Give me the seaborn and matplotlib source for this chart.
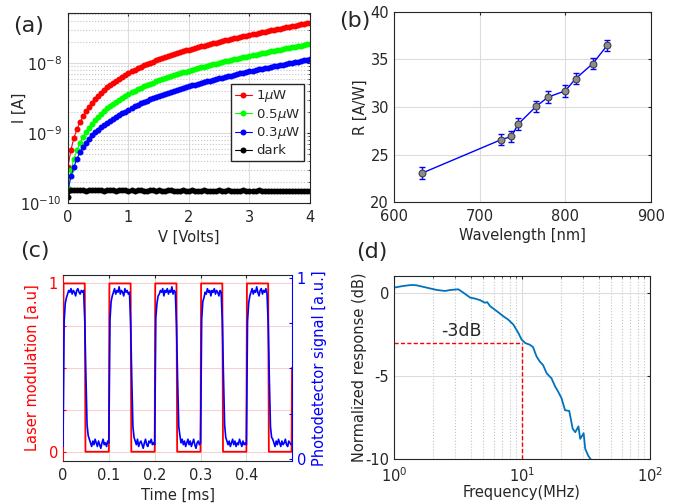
import numpy as np
import matplotlib
matplotlib.use("Agg")
import matplotlib.pyplot as plt
import seaborn as sns
from matplotlib.ticker import LogLocator, NullFormatter

# ---- (a) I-V curves, current in nA ----
bias_v = np.round(np.arange(0, 4.001, 0.05), 2)
i_1uw = [0.33, 0.58, 0.86, 1.14, 1.43, 1.74, 2.06, 2.38, 2.71, 3.05,
         3.40, 3.76, 4.12, 4.49, 4.86, 5.24, 5.62, 6.00, 6.39, 6.78,
         7.17, 7.59, 8.01, 8.43, 8.85, 9.27, 9.69, 10.11, 10.53, 10.95,
         11.37, 11.79, 12.21, 12.63, 13.05, 13.47, 13.89, 14.31, 14.73, 15.15,
         15.57, 16.00, 16.43, 16.87, 17.31, 17.77, 18.23, 18.69, 19.16, 19.64,
         20.13, 20.62, 21.12, 21.62, 22.13, 22.65, 23.17, 23.70, 24.24, 24.78,
         25.33, 25.89, 26.45, 27.02, 27.60, 28.18, 28.77, 29.36, 29.96, 30.57,
         31.19, 31.81, 32.44, 33.07, 33.71, 34.36, 35.01, 35.67, 36.34, 37.01,
         37.69]
i_05uw = [0.165, 0.30, 0.43, 0.57, 0.72, 0.87, 1.03, 1.19, 1.36, 1.53,
          1.70, 1.88, 2.06, 2.25, 2.43, 2.62, 2.81, 3.00, 3.20, 3.39,
          3.59, 3.80, 4.01, 4.22, 4.43, 4.64, 4.85, 5.06, 5.27, 5.48,
          5.69, 5.90, 6.11, 6.32, 6.53, 6.74, 6.95, 7.16, 7.37, 7.58,
          7.79, 8.00, 8.22, 8.44, 8.66, 8.89, 9.12, 9.35, 9.58, 9.82,
          10.07, 10.31, 10.56, 10.81, 11.07, 11.33, 11.59, 11.85, 12.12, 12.39,
          12.67, 12.95, 13.23, 13.51, 13.80, 14.09, 14.39, 14.68, 14.98, 15.29,
          15.60, 15.91, 16.22, 16.54, 16.86, 17.18, 17.51, 17.84, 18.17, 18.51,
          18.85]
i_03uw = [0.15, 0.24, 0.33, 0.43, 0.53, 0.63, 0.73, 0.83, 0.93, 1.03,
          1.12, 1.21, 1.30, 1.40, 1.49, 1.59, 1.69, 1.80, 1.92, 2.03,
          2.15, 2.28, 2.40, 2.53, 2.66, 2.78, 2.91, 3.03, 3.16, 3.29,
          3.41, 3.54, 3.66, 3.79, 3.92, 4.04, 4.17, 4.29, 4.42, 4.55,
          4.67, 4.80, 4.93, 5.06, 5.19, 5.33, 5.47, 5.61, 5.75, 5.89,
          6.04, 6.19, 6.34, 6.49, 6.64, 6.80, 6.95, 7.11, 7.27, 7.43,
          7.60, 7.77, 7.94, 8.11, 8.28, 8.45, 8.63, 8.81, 8.99, 9.17,
          9.36, 9.54, 9.73, 9.92, 10.11, 10.31, 10.50, 10.70, 10.90, 11.10,
          11.31]
i_dark = [0.12, 0.152, 0.153, 0.151, 0.154, 0.152, 0.150, 0.153, 0.155, 0.152,
          0.151, 0.153, 0.150, 0.152, 0.154, 0.151, 0.150, 0.152, 0.153, 0.151,
          0.149, 0.152, 0.150, 0.151, 0.153, 0.150, 0.149, 0.151, 0.152, 0.150,
          0.151, 0.149, 0.150, 0.152, 0.151, 0.150, 0.148, 0.150, 0.151, 0.149,
          0.150, 0.151, 0.149, 0.148, 0.150, 0.151, 0.149, 0.147, 0.148, 0.150,
          0.151, 0.149, 0.150, 0.152, 0.150, 0.149, 0.148, 0.150, 0.151, 0.149,
          0.150, 0.148, 0.149, 0.151, 0.150, 0.148, 0.149, 0.150, 0.149, 0.148,
          0.150, 0.149, 0.148, 0.150, 0.149, 0.148, 0.149, 0.150, 0.148, 0.149,
          0.149]
iv_labels = ["1$\\mu$W", "0.5$\\mu$W", "0.3$\\mu$W", "dark"]

# ---- (b) responsivity vs wavelength ----
wavelength_nm = [633, 725, 737, 745, 766, 780, 800, 812, 832, 849]
responsivity = [23.05, 26.56, 26.9, 28.2, 30.07, 31.05, 31.7, 32.98, 34.56, 36.5]
resp_err = [0.6, 0.6, 0.6, 0.6, 0.6, 0.6, 0.6, 0.6, 0.6, 0.6]

# ---- (c) modulation and photodetector response ----
laser_t = [0.0, 0.0012, 0.0475, 0.049,
           0.1, 0.1012, 0.1475, 0.149,
           0.2, 0.2012, 0.2475, 0.249,
           0.3, 0.3012, 0.3475, 0.349,
           0.4, 0.4012, 0.4475, 0.449,
           0.4985, 0.4995]
laser_level = [0, 1, 1, 0, 0, 1, 1, 0, 0, 1, 1, 0,
               0, 1, 1, 0, 0, 1, 1, 0, 0, 0.5]
pd_dt = 0.0025
pd_signal = [
    0.07, 0.76, 0.86, 0.89, 0.91, 0.93, 0.92, 0.94, 0.91, 0.93,
    0.92, 0.90, 0.93, 0.94, 0.92, 0.91, 0.93, 0.92, 0.93, 0.76,
    0.46, 0.19, 0.13, 0.11, 0.09, 0.07, 0.10, 0.08, 0.11, 0.09,
    0.07, 0.10, 0.08, 0.06, 0.09, 0.11, 0.08, 0.09, 0.07, 0.10,
    0.09, 0.77, 0.87, 0.90, 0.92, 0.94, 0.91, 0.93, 0.92, 0.95,
    0.91, 0.93, 0.92, 0.90, 0.94, 0.92, 0.93, 0.91, 0.92, 0.75,
    0.45, 0.18, 0.12, 0.10, 0.08, 0.11, 0.07, 0.09, 0.10, 0.08,
    0.06, 0.09, 0.11, 0.08, 0.07, 0.10, 0.09, 0.11, 0.08, 0.09,
    0.08, 0.78, 0.86, 0.90, 0.91, 0.93, 0.92, 0.94, 0.90, 0.93,
    0.92, 0.94, 0.91, 0.93, 0.92, 0.95, 0.91, 0.93, 0.92, 0.74,
    0.44, 0.18, 0.13, 0.09, 0.11, 0.08, 0.10, 0.07, 0.09, 0.11,
    0.08, 0.10, 0.07, 0.09, 0.11, 0.08, 0.06, 0.09, 0.10, 0.08,
    0.09, 0.77, 0.87, 0.89, 0.92, 0.91, 0.94, 0.92, 0.93, 0.90,
    0.93, 0.92, 0.94, 0.91, 0.93, 0.92, 0.90, 0.93, 0.92, 0.76,
    0.46, 0.19, 0.12, 0.10, 0.08, 0.10, 0.07, 0.09, 0.11, 0.08,
    0.10, 0.07, 0.09, 0.08, 0.11, 0.09, 0.07, 0.10, 0.08, 0.09,
    0.08, 0.76, 0.86, 0.90, 0.92, 0.94, 0.91, 0.93, 0.92, 0.95,
    0.92, 0.90, 0.93, 0.94, 0.91, 0.93, 0.92, 0.94, 0.91, 0.75,
    0.45, 0.18, 0.12, 0.11, 0.09, 0.07, 0.10, 0.08, 0.11, 0.09,
    0.07, 0.10, 0.08, 0.09, 0.11, 0.08, 0.07, 0.10, 0.09, 0.08]
time_ticks = [0, 0.1, 0.2, 0.3, 0.4]
time_tick_labels = ["0", "0.1", "0.2", "0.3", "0.4"]

# ---- (d) frequency response ----
freq_mhz = [1.0, 1.18, 1.37, 1.50, 1.80, 2.16, 2.50, 2.77, 3.18, 3.48,
            3.94, 4.30, 4.70, 5.14, 5.35, 5.63, 6.35, 7.15, 7.80, 8.56,
            9.36, 9.95, 10.6, 11.5, 12.2, 13.0, 13.8, 14.6, 15.6, 16.5,
            17.0, 18.2, 19.2, 20.4, 21.7, 23.4, 24.9, 26.1, 27.6, 28.5,
            30.3, 31.2, 32.9, 35.0]
resp_db = [0.30, 0.40, 0.46, 0.44, 0.30, 0.16, 0.10, 0.16, 0.20, 0.00,
           -0.30, -0.36, -0.45, -0.61, -0.57, -0.81, -1.11, -1.42, -1.62, -1.92,
           -2.42, -2.83, -3.03, -3.13, -3.27, -3.84, -4.15, -4.35, -4.85, -5.05,
           -5.15, -5.66, -5.96, -6.36, -7.07, -7.11, -8.18, -8.39, -8.04, -8.79,
           -8.45, -9.39, -9.80, -10.1]
cutoff_mhz = 10
cutoff_db = -3

sns.set_style("white")
plt.rcParams.update({
    "font.family": ["DejaVu Sans"],
    "font.size": 10.5,
    "axes.unicode_minus": False,
    "axes.edgecolor": "#262626",
    "axes.linewidth": 0.8,
    "axes.labelcolor": "#262626",
    "text.color": "#262626",
    "xtick.color": "#262626",
    "ytick.color": "#262626",
    "xtick.direction": "in",
    "ytick.direction": "in",
    "xtick.top": True,
    "ytick.right": True,
    "xtick.major.size": 2.5,
    "ytick.major.size": 2.5,
    "xtick.minor.size": 1.5,
    "ytick.minor.size": 1.5,
    "xtick.major.pad": 5,
    "ytick.major.pad": 3.5,
})

grid_major = "#dcdcdc"
grid_minor = "#c4c4c4"

fig = plt.figure(figsize=(6.73, 5.04), dpi=100)

# (a)
ax_a = fig.add_axes([0.1010, 0.5972, 0.3596, 0.3770])
for vals, col, lab in zip([i_1uw, i_05uw, i_03uw, i_dark],
                          ["red", "#00ff00", "blue", "black"], iv_labels):
    sns.lineplot(x=bias_v, y=np.array(vals) * 1e-9, color=col, lw=0.8,
                 marker="o", markersize=4.3, markeredgewidth=0, label=lab,
                 estimator=None, sort=False, ax=ax_a)
ax_a.set_yscale("log")
ax_a.set_xlim(0, 4)
ax_a.set_ylim(1e-10, 5.2e-8)
ax_a.set_xticks([0, 1, 2, 3, 4])
ax_a.yaxis.set_minor_locator(LogLocator(base=10, subs=np.arange(2, 10)))
ax_a.yaxis.set_minor_formatter(NullFormatter())
ax_a.grid(True, which="major", color=grid_major, lw=0.8)
ax_a.grid(True, which="minor", axis="y", color=grid_minor, ls=":", lw=0.8)
ax_a.set_axisbelow(True)
ax_a.tick_params(axis="y", pad=4.5)
ax_a.set_xlabel("V [Volts]")
ax_a.set_ylabel("I [A]")
ax_a.xaxis.set_label_coords(0.5, -0.142)
ax_a.yaxis.set_label_coords(-0.169, 0.5)
ax_a.legend(loc="upper right", bbox_to_anchor=(0.975, 0.625), fontsize=9.5,
            frameon=True, fancybox=False, framealpha=1, edgecolor="#262626",
            handlelength=1.3, handletextpad=0.3, borderpad=0.3,
            labelspacing=0.2, borderaxespad=0)

# (b)
ax_b = fig.add_axes([0.5854, 0.5992, 0.3819, 0.3770])
sns.lineplot(x=wavelength_nm, y=responsivity, color="blue", lw=1.0,
             estimator=None, sort=False, ax=ax_b)
ax_b.errorbar(wavelength_nm, responsivity, yerr=resp_err, fmt="none",
              ecolor="blue", elinewidth=1.0, capsize=2.2, capthick=1.0, zorder=3)
sns.scatterplot(x=wavelength_nm, y=responsivity, color="#8c8c8c",
                edgecolor="#404040", linewidth=0.8, s=24, zorder=4, ax=ax_b)
ax_b.set_xlim(600, 900)
ax_b.set_ylim(20, 40)
ax_b.set_xticks([600, 700, 800, 900])
ax_b.set_yticks([20, 25, 30, 35, 40])
ax_b.grid(True, color=grid_major, lw=0.8)
ax_b.set_axisbelow(True)
ax_b.set_xlabel("Wavelength [nm]")
ax_b.set_ylabel("R [A/W]")
ax_b.xaxis.set_label_coords(0.5, -0.135)
ax_b.yaxis.set_label_coords(-0.101, 0.5)

# (c)
ax_c = fig.add_axes([0.0936, 0.0853, 0.3403, 0.3690])
sns.lineplot(x=laser_t, y=laser_level, color="red", lw=1.3,
             estimator=None, sort=False, ax=ax_c)
ax_c.set_xlim(0, 0.4995)
ax_c.set_ylim(-0.055, 1.05)
ax_c.set_xticks(time_ticks)
ax_c.set_xticklabels(time_tick_labels)
ax_c.set_yticks([0, 0.25, 0.5, 0.75, 1])
ax_c.set_yticklabels(["0", "", "", "", "1"])
ax_c.tick_params(axis="y", colors="red", right=False)
ax_c.spines["left"].set_color("red")
ax_c.spines["right"].set_visible(False)
ax_c.grid(True, axis="y", color="#f9d0d0", lw=0.8)
ax_c.grid(True, axis="x", color=grid_major, lw=0.8)
ax_c.set_axisbelow(True)
ax_c.set_xlabel("Time [ms]")
ax_c.set_ylabel("Laser modulation [a.u]", color="red")
ax_c.xaxis.set_label_coords(0.5, -0.145)
ax_c.yaxis.set_label_coords(-0.10, 0.5)

ax_c2 = ax_c.twinx()
pd_t = np.arange(len(pd_signal)) * pd_dt
sns.lineplot(x=pd_t, y=pd_signal, color="blue", lw=1.2,
             estimator=None, sort=False, ax=ax_c2)
ax_c2.set_ylim(-0.01, 1.015)
ax_c2.set_yticks([0, 0.25, 0.5, 0.75, 1])
ax_c2.set_yticklabels(["0", "", "", "", "1"])
ax_c2.tick_params(axis="y", colors="blue", left=False, right=True,
                  labelright=True, labelleft=False)
ax_c2.spines["right"].set_color("blue")
for side in ["left", "top", "bottom"]:
    ax_c2.spines[side].set_visible(False)
ax_c2.set_ylabel("Photodetector signal [a.u.]", color="blue")
ax_c2.yaxis.set_label_coords(1.087, 0.5)

# (d)
ax_d = fig.add_axes([0.5854, 0.0893, 0.3804, 0.3631])
sns.lineplot(x=freq_mhz, y=resp_db, color="#0072BD", lw=1.3,
             estimator=None, sort=False, ax=ax_d)
ax_d.set_xscale("log")
ax_d.set_xlim(1, 100)
ax_d.set_ylim(-10, 1)
ax_d.hlines(cutoff_db, 1, cutoff_mhz, colors="red", lw=1.0, linestyles=(0, (3, 1.6)))
ax_d.vlines(cutoff_mhz, -10, cutoff_db, colors="red", lw=1.0, linestyles=(0, (3, 1.6)))
ax_d.text(3.38, -2.33, "-3dB", fontsize=12.5, ha="center", va="center")
ax_d.set_yticks([-10, -5, 0])
ax_d.xaxis.set_minor_locator(LogLocator(base=10, subs=np.arange(2, 10)))
ax_d.xaxis.set_minor_formatter(NullFormatter())
ax_d.grid(True, which="major", color=grid_major, lw=0.8)
ax_d.grid(True, which="minor", axis="x", color=grid_minor, ls=":", lw=0.8)
ax_d.set_axisbelow(True)
ax_d.set_xlabel("Frequency(MHz)")
ax_d.set_ylabel("Normalized response (dB)")
ax_d.xaxis.set_label_coords(0.5, -0.142)
ax_d.yaxis.set_label_coords(-0.105, 0.5)

# panel letters
for lab, (px, py) in zip(["(a)", "(b)", "(c)", "(d)"],
                         [(29, 26), (355, 21), (35, 251), (372, 252)]):
    fig.text(px / 673, 1 - py / 504, lab, fontsize=16, ha="center", va="center")

fig.savefig("out.png", dpi=100)
